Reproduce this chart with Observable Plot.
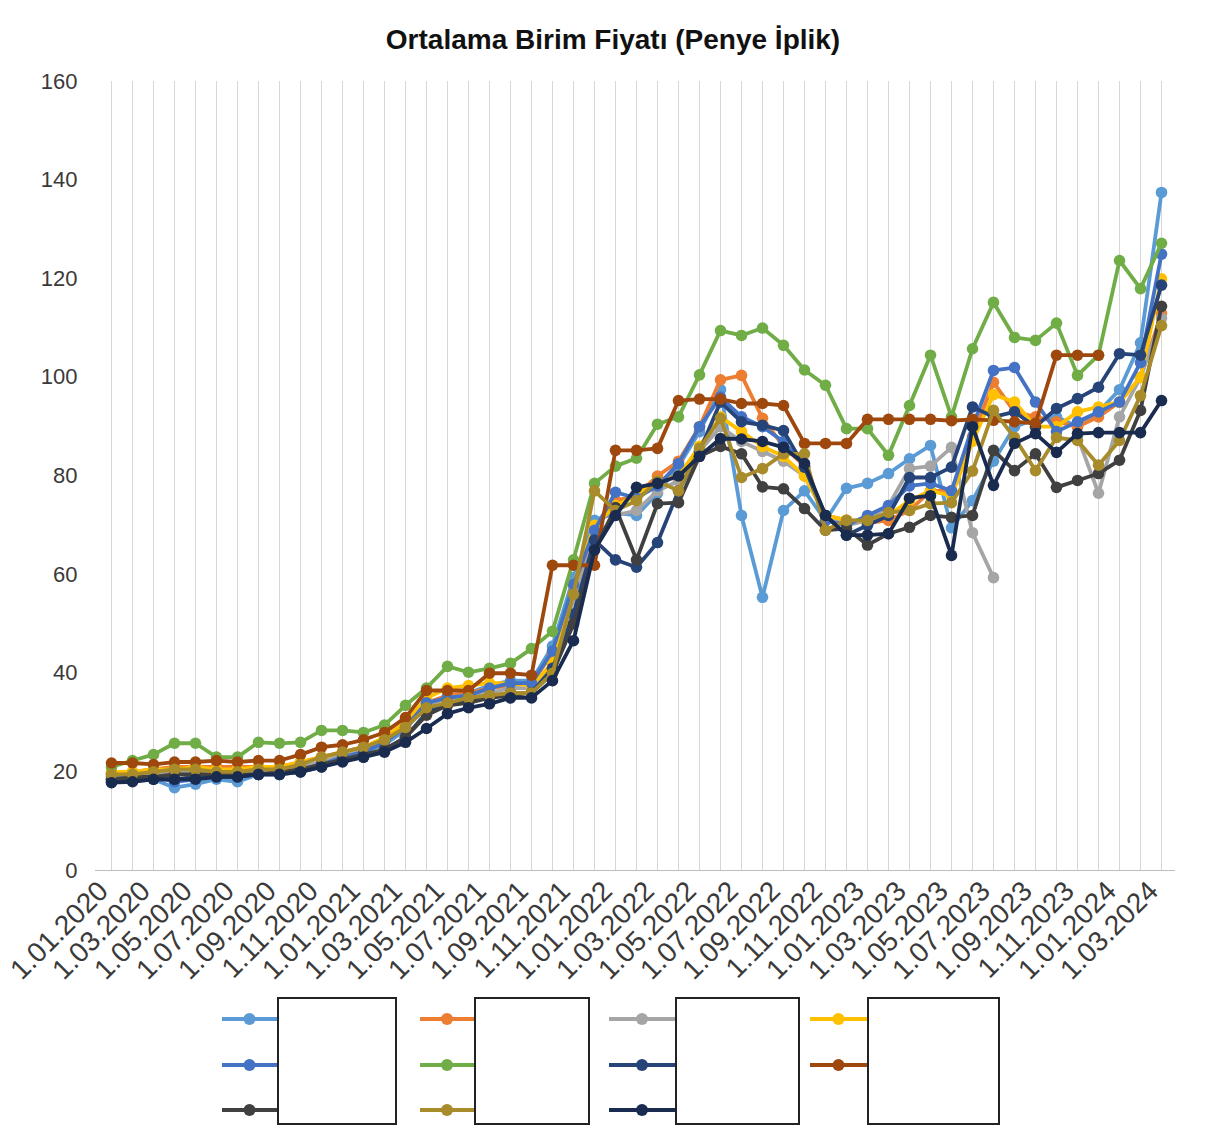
<!DOCTYPE html>
<html><head><meta charset="utf-8">
<script src="https://cdn.jsdelivr.net/npm/d3@7"></script>
<script src="https://cdn.jsdelivr.net/npm/@observablehq/plot@0.6"></script>
<style>
html,body{margin:0;padding:0;background:#fff;}
#page{position:relative;width:1216px;height:1146px;overflow:hidden;font-family:"Liberation Sans",Arial,sans-serif;background:#fff;}
#title{position:absolute;left:0;top:24px;width:1216px;padding-left:10px;box-sizing:border-box;text-align:center;font-weight:bold;font-size:28px;color:#111;}
#chart{position:absolute;left:0;top:60px;}
.box{position:absolute;background:#fff;border:2px solid #222;box-sizing:border-box;}
.mk{position:absolute;}
</style></head><body>
<div id="page"><div id="title">Ortalama Birim Fiyatı (Penye İplik)</div><div id="chart"></div></div>
<script>
const months = ["1.01.2020","1.02.2020","1.03.2020","1.04.2020","1.05.2020","1.06.2020","1.07.2020","1.08.2020","1.09.2020","1.10.2020","1.11.2020","1.12.2020",
"1.01.2021","1.02.2021","1.03.2021","1.04.2021","1.05.2021","1.06.2021","1.07.2021","1.08.2021","1.09.2021","1.10.2021","1.11.2021","1.12.2021",
"1.01.2022","1.02.2022","1.03.2022","1.04.2022","1.05.2022","1.06.2022","1.07.2022","1.08.2022","1.09.2022","1.10.2022","1.11.2022","1.12.2022",
"1.01.2023","1.02.2023","1.03.2023","1.04.2023","1.05.2023","1.06.2023","1.07.2023","1.08.2023","1.09.2023","1.10.2023","1.11.2023","1.12.2023",
"1.01.2024","1.02.2024","1.03.2024"];
const xTickLabels = ["1.01.2020","1.03.2020","1.05.2020","1.07.2020","1.09.2020","1.11.2020","1.01.2021","1.03.2021","1.05.2021","1.07.2021","1.09.2021","1.11.2021","1.01.2022","1.03.2022","1.05.2022","1.07.2022","1.09.2022","1.11.2022","1.01.2023","1.03.2023","1.05.2023","1.07.2023","1.09.2023","1.11.2023","1.01.2024","1.03.2024"];
const yTicks = [0,20,40,60,80,100,120,140,160];

const seriesNames = ["S1","S2","S3","S4","S5","S6","S7","S8","S9","S10","S11"];
const seriesColors = ["#5B9BD5","#ED7D31","#A5A5A5","#FFC000","#4472C4","#70AD47","#264478","#9E480E","#404040","#A88B2A","#1A2B50"];

const s1 = [19,19,18.5,16.8,17.5,18.5,18,19.5,19.5,20.5,22,23,
 24,25.5,28.5,34,35,36,37.5,38.5,38.5,45.5,59.4,71,
 72.5,72,76.5,82,89,97.5,72,55.4,73,77,71,77.5,
 78.5,80.5,83.5,86.2,69.5,75,83,90,91.5,92,90,93,
 97.5,107,137.5];
const s2 = [20,20,20.5,21,21,21,21,21,21,22,23,24,
 25,26.5,29.5,34,35.5,36,37,37.5,38,44,56,69,
 75,76,80,83,90,99.5,100.4,91.7,86,82,72,71,
 70.5,71,73,77,77,88,99,93,92,91,90,92,
 95,100,113];
const s3 = [19.5,19.5,19.5,20,20,20,20,20,20,21,22,23.5,
 24.5,26,29,33.5,35,35.5,36,37,37,42,55,67,
 72,73,77,79,85,90,87,85,83,80,72,70,
 71,74,81.5,82,85.8,68.5,59.4,null,null,null,88,76.5,
 92,100,112];
const s4 = [20,20,20.5,20.5,21,20.5,20.5,21,21,22,23,24,
 25,27,30,35,37,37.5,38,38,37.5,42,58,70,
 74,76,79,80,86,92,89,86,84,80,72,71,
 71,72,75,77,76,87,96.5,95,90,90,93,94,
 95,100,120];
const s5 = [18.5,18.5,19,18,18.5,19,19,19.5,19.5,20.5,21.5,23,
 24,26,29,34,35,35.5,37,38,38,44.5,58,69,
 76.7,75.5,78,82.5,90,96,92,90,87,82,71,70,
 72,74,78,78.5,77,90,101.4,102,95,89,91,93,
 95,103,125];
const s6 = [21,22.3,23.5,25.8,25.8,23,23,26,25.8,26,28.4,28.4,
 28,29.5,33.5,37,41.4,40.2,41,42,45,48.5,63,78.5,
 82,83.6,90.5,92,100.5,109.5,108.5,110,106.5,101.5,98.4,89.6,
 89.6,84.2,94.3,104.5,92,105.8,115.2,108.1,107.5,111,100.4,104.5,
 123.7,118,127.2];
const s7 = [18,18.5,18.5,18.5,19,19,19,19.5,19.5,20,21,22.5,
 23,24.5,27,32,34,34.5,35,36,36,41,52,67,
 63,61.5,66.5,77,85,95,91,90.3,89.2,81.8,72,68,
 70,72,79.7,79.7,81.8,94,92,93,90,93.7,95.7,98,
 104.8,104.5,118.7];
const s8 = [21.8,21.8,21.5,22,22,22.3,22,22.3,22.3,23.5,25,25.5,
 26.5,28,31,36.5,36.5,36.5,40,40,39.6,61.9,61.9,61.9,
 85.2,85.2,85.6,95.3,95.6,95.6,94.7,94.7,94.3,86.6,86.6,86.6,
 91.5,91.5,91.5,91.5,91.2,91.5,91.3,91,90.7,104.5,104.5,104.5,
 null,null,null];
const s9 = [18.5,19,19,19.5,19.5,19.5,19.5,19.5,20,20.5,21.5,22.5,
 23.5,24.5,27,31.5,33.5,34,35,35.5,36,40,50,65,
 73.6,63,74.4,74.6,84,86,84.5,77.8,77.4,73.4,69,69.4,
 66,68.3,69.6,72,71.6,72,85.2,81.1,84.5,77.7,79.1,80.5,
 83.2,93.3,114.4];
const s10 = [19.5,19.5,20,20.5,20.5,20,20,20.5,20.5,21.5,23,24,
 25,26.5,29,33,34,35,35.5,36,36,40,56,77,
 73,75,79,77,85.6,91.7,79.7,81.5,84.5,84.5,69,71,
 71,72.6,73,74.4,74.6,81,93.3,87.8,81.1,87.8,87.2,82.2,
 87.2,96.3,110.5];
const s11 = [17.8,18,18.5,18.5,18.5,19,19,19.5,19.5,20,21,22,
 23,24,26,28.8,31.8,33,33.8,35,35,38.5,46.6,65,
 72,77.7,78.5,80,84,87.6,87.5,87,85.8,82.5,72,68,
 68,68.3,75.5,76,63.9,90,78.1,86.6,88.6,84.8,88.6,88.8,
 88.8,88.8,95.3];

const seriesValues = [s1,s2,s3,s4,s5,s6,s7,s8,s9,s10,s11];

const fontStack = '"Liberation Sans", Arial, sans-serif';
const marks = [
  Plot.ruleX(months, {stroke: "#d6d6d6", strokeWidth: 1}),
  Plot.ruleY([0], {stroke: "#bdbdbd", strokeWidth: 1.2, insetLeft: -10, insetRight: -8}),
  Plot.axisY(yTicks, {tickSize: 0, tickPadding: 28, fontSize: 22, fill: "#3a3a3a"}),
  Plot.axisX(xTickLabels, {tickSize: 0, tickRotate: -45, tickPadding: 16, dx: -8, fontSize: 28, fill: "#3a3a3a"})
];
seriesValues.forEach((vals, k) => {
  const rows = vals.map((v, i) => ({month: months[i], value: v, series: seriesNames[k]}));
  marks.push(Plot.line(rows, {x: "month", y: "value", stroke: seriesColors[k], strokeWidth: 3.8, strokeLinejoin: "round"}));
  marks.push(Plot.dot(rows.filter(d => d.value != null), {x: "month", y: "value", fill: seriesColors[k], r: 5.8}));
});

const chart = Plot.plot({
  width: 1216, height: 930,
  marginTop: 21, marginBottom: 120, marginLeft: 105, marginRight: 49,
  style: {fontFamily: fontStack, fontSize: "22px", background: "transparent", overflow: "visible"},
  x: {type: "point", domain: months, padding: 0, label: null, axis: null},
  y: {domain: [0, 160], label: null, axis: null},
  marks
});
document.getElementById("chart").appendChild(chart);

// legend: column-major, names hidden behind white boxes as in the reference
const page = document.getElementById("page");
const legendCols = [
  {markerX: 222, markerW: 55, boxX: 277, boxW: 120, items: [0, 4, 8]},
  {markerX: 420, markerW: 54, boxX: 474, boxW: 116, items: [1, 5, 9]},
  {markerX: 609, markerW: 66, boxX: 675, boxW: 125, items: [2, 6, 10]},
  {markerX: 810, markerW: 57, boxX: 867, boxW: 133, items: [3, 7]}
];
const rowY = [1019, 1065, 1110];
legendCols.forEach(col => {
  col.items.forEach((k, r) => {
    const ns = "http://www.w3.org/2000/svg";
    const svg = document.createElementNS(ns, "svg");
    svg.setAttribute("width", col.markerW);
    svg.setAttribute("height", 14);
    svg.setAttribute("class", "mk");
    svg.style.left = col.markerX + "px";
    svg.style.top = (rowY[r] - 7) + "px";
    const ln = document.createElementNS(ns, "line");
    ln.setAttribute("x1", 0); ln.setAttribute("x2", col.markerW);
    ln.setAttribute("y1", 7); ln.setAttribute("y2", 7);
    ln.setAttribute("stroke", seriesColors[k]); ln.setAttribute("stroke-width", 4);
    svg.appendChild(ln);
    const c = document.createElementNS(ns, "circle");
    c.setAttribute("cx", col.markerW / 2); c.setAttribute("cy", 7); c.setAttribute("r", 6);
    c.setAttribute("fill", seriesColors[k]);
    svg.appendChild(c);
    page.appendChild(svg);
  });
  const box = document.createElement("div");
  box.className = "box";
  box.style.left = col.boxX + "px";
  box.style.top = "997px";
  box.style.width = col.boxW + "px";
  box.style.height = "128px";
  page.appendChild(box);
});
</script>
</body></html>
